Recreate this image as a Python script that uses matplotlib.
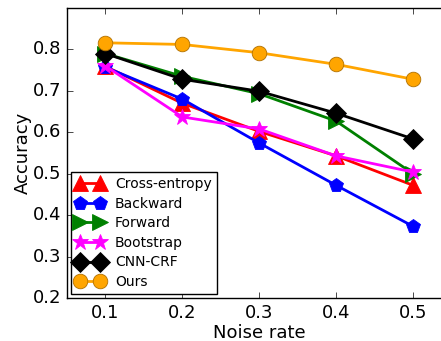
import matplotlib
matplotlib.use("Agg")
import matplotlib.pyplot as plt

noise = [0.1, 0.2, 0.3, 0.4, 0.5]
cross_entropy = [0.759, 0.670, 0.602, 0.543, 0.472]
backward = [0.757, 0.680, 0.574, 0.472, 0.373]
forward = [0.790, 0.735, 0.693, 0.627, 0.500]
bootstrap = [0.760, 0.637, 0.608, 0.543, 0.504]
cnn_crf = [0.790, 0.728, 0.699, 0.646, 0.584]
ours = [0.816, 0.812, 0.792, 0.764, 0.728]

xticks = [0.1, 0.2, 0.3, 0.4, 0.5]
yticks = [0.2, 0.3, 0.4, 0.5, 0.6, 0.7, 0.8]

plt.style.use("classic")
fig = plt.figure(figsize=(4.41, 3.41), dpi=100)
ax = fig.add_axes([67/441, 1-298/341, (451.5-67)/441, (298-8)/341])

series = [
    ("Cross-entropy", cross_entropy, "red", "^", 11),
    ("Backward", backward, "blue", "p", 10),
    ("Forward", forward, "green", ">", 11),
    ("Bootstrap", bootstrap, "magenta", "*", 12),
    ("CNN-CRF", cnn_crf, "black", "D", 10),
    ("Ours", ours, "orange", "o", 10.5),
]
for name, vals, c, m, ms in series:
    ax.plot(noise, vals, color=c, marker=m, markersize=ms, linewidth=2,
            markeredgecolor=c if c != "orange" else "#b07000",
            markeredgewidth=0.6, label=name)

ax.set_xlim(0.05, 0.55)
ax.set_ylim(0.2, 0.9)
ax.set_xticks(xticks)
ax.set_yticks(yticks)
ax.tick_params(labelsize=13)
ax.set_xlabel("Noise rate", fontsize=13, labelpad=2)
ax.set_ylabel("Accuracy", fontsize=13, labelpad=1)
ax.legend(loc="lower left", numpoints=2, fontsize=10, handlelength=2,
          borderpad=0.35, labelspacing=0.4, handletextpad=0.8,
          borderaxespad=0.3, fancybox=False)
fig.savefig("out.png", dpi=100)
